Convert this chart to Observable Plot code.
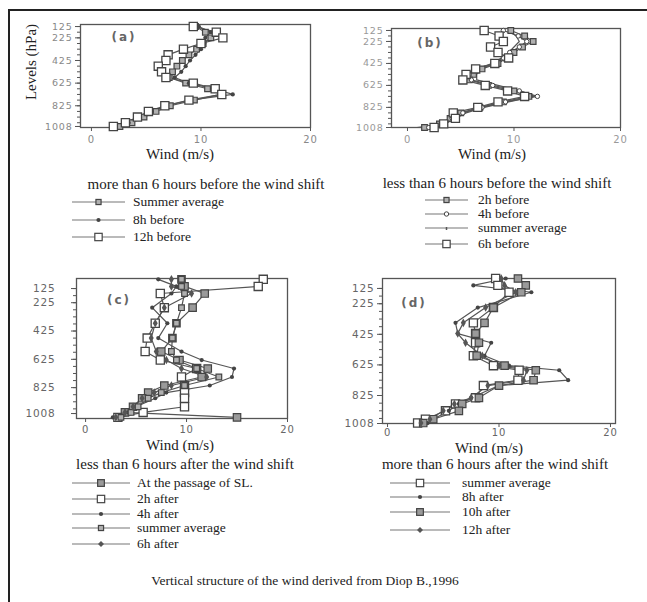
<!DOCTYPE html>
<html><head><meta charset="utf-8">
<script src="https://cdn.jsdelivr.net/npm/d3@7"></script>
<script src="https://cdn.jsdelivr.net/npm/@observablehq/plot@0.6"></script>
<style>
body{margin:0;background:#fff;}
#fig{position:relative;width:647px;height:602px;overflow:hidden;font-family:"Liberation Serif","Times New Roman",serif;color:#222;background:#fff;}
#border{position:absolute;left:8px;top:9px;width:660px;height:620px;border-left:2px solid #222;border-top:2px solid #222;}
.t{position:absolute;white-space:nowrap;transform:translate(-50%,-50%);line-height:1;}
.lg{position:absolute;white-space:nowrap;font-size:13.5px;line-height:13px;}
.lg svg{position:absolute;}
.pl{position:absolute;}
.pn{position:absolute;transform:translate(-50%,-50%);font-family:"DejaVu Sans",sans-serif;font-weight:bold;font-size:12px;color:#666;letter-spacing:2px;}
</style></head>
<body><div id="fig"><div id="border"></div></div>
<script>
// ---------- data ----------
const levelsAB = [125,175,225,275,325,375,425,475,525,575,625,675,725,775,825,875,925,975,1008];
const aSummer = [9.5,10.4,10.9,10.2,9.6,8.9,8.3,7.8,7.4,7.1,8.6,10.6,11.8,9.4,7.2,5.9,4.8,3.7,2.6];
const a8h     = [9.8,10.9,10.4,10.3,10.0,9.5,9.0,8.6,8.2,7.6,8.9,11.2,12.9,9.0,6.9,5.5,4.4,3.4,2.1];
const a12h    = [9.3,11.4,12.0,10.0,8.4,7.0,6.8,6.1,6.4,6.8,9.3,11.3,11.9,8.9,6.7,5.2,4.2,3.1,2.0];

const b2h     = [9.7,11.0,11.8,10.8,10.0,9.3,8.5,7.0,6.2,5.8,7.6,10.0,11.4,9.0,6.8,5.0,4.0,3.0,1.6];
const b4h     = [9.0,10.4,11.2,10.5,9.6,9.0,8.0,6.5,5.8,6.0,8.0,10.5,12.2,9.2,7.0,5.2,4.2,3.2,2.0];
const bSummer = [9.5,10.2,10.5,10.0,9.5,8.8,8.0,7.0,6.5,6.5,8.5,10.6,11.9,9.5,7.2,5.5,4.5,3.5,0.9];
const b6h     = [7.2,8.6,9.0,7.8,8.5,9.5,8.2,6.4,5.5,5.2,7.3,9.4,11.0,8.5,6.6,4.3,4.5,3.4,2.5];

const levelsC = [60,110,160,260,370,475,570,630,690,750,810,860,900,960,1000,1035];
const cSL     = [9.5,9.8,11.8,10.6,9.0,8.6,7.5,9.3,12.1,11.5,7.8,6.2,5.6,4.7,3.9,15.0];
const c2h     = [17.6,17.1,7.4,7.8,6.9,6.1,5.9,7.4,11.0,9.5,9.8,9.8,9.8,9.8,5.7,3.2];
const c4h     = [7.2,9.0,8.5,6.6,8.1,7.2,9.5,11.5,14.7,14.5,12.3,8.0,6.9,5.0,4.2,2.7];
const cSummer = [9.5,9.5,9.8,9.5,9.0,8.6,8.5,9.0,11.0,13.2,9.8,7.5,6.2,5.2,4.5,3.5];
const c6h     = [8.5,8.5,10.5,7.8,6.9,6.5,7.0,8.0,9.5,12.0,8.5,6.8,5.6,4.7,3.9,3.0];

const levelsD = [60,105,150,250,350,420,480,565,630,660,725,760,840,880,925,980,1005];
const dSummer = [9.7,9.9,10.9,9.5,7.7,7.9,7.9,7.7,9.5,11.8,11.7,8.6,7.9,6.1,5.2,3.4,2.7];
const d8h     = [10.6,7.7,12.9,8.1,6.1,6.3,9.3,8.7,10.9,15.4,16.2,10.0,7.5,6.4,5.5,4.1,3.6];
const d10h    = [11.7,12.4,12.0,9.5,8.7,7.9,8.2,8.0,10.5,13.3,13.1,10.0,8.2,6.7,6.4,4.1,3.2];
const d12h    = [10.2,10.5,11.5,8.8,6.8,6.3,7.0,8.5,10.0,12.5,12.2,9.0,7.5,6.0,5.0,3.8,3.0];

const xTicks = [0,10,20];
const yTicks = [125,225,425,625,825,1008];
const minorY = [125,175,225,275,325,375,425,475,525,575,625,675,725,775,825,875,925,975,1008];

const namesA = ["Summer average","8h before","12h before"];
const namesB = ["2h before","4h before","summer average","6h before"];
const namesC = ["At the passage of SL.","2h after","4h after","summer average","6h after"];
const namesD = ["summer average","8h after","10h after","12h after"];

const titleA = "more than 6 hours before the wind shift";
const titleB = "less than 6 hours before the wind shift";
const titleC = "less than 6 hours after the wind shift";
const titleD = "more than 6 hours after the wind shift";
const xLabel = "Wind (m/s)";
const yLabel = "Levels (hPa)";
const caption = "Vertical structure of the wind derived from Diop B.,1996";

// ---------- styles ----------
const mk = {
  graySq:  {symbol:"square", r:4.2, fill:"#9a9a9a", stroke:"#444", strokeWidth:1.2},
  smallSq: {symbol:"square", r:3.2, fill:"#b0b0b0", stroke:"#444", strokeWidth:1.2},
  openSq:  {symbol:"square", r:4.6, fill:"#fff", stroke:"#444", strokeWidth:1.3},
  dot:     {symbol:"circle", r:2.1, fill:"#444", stroke:"none"},
  diamond: {symbol:"diamond", r:2.6, fill:"#555", stroke:"none"},
  ring:    {symbol:"circle", r:2.2, fill:"#fff", stroke:"#444", strokeWidth:1},
  none:    null
};
const panelStyles = {
  a: ["smallSq","dot","openSq"],
  b: ["smallSq","ring","none","openSq"],
  c: ["graySq","openSq","dot","smallSq","diamond"],
  d: ["openSq","dot","graySq","diamond"]
};

function tidy(levels, series, names, styles) {
  const out = [];
  series.forEach((vals, i) => vals.forEach((w, j) => out.push({p: levels[j], w, s: names[i], m: styles[i]})));
  return out;
}

const fig = document.getElementById("fig");
const fmt = d => String(d);

function panel(cfg) {
  const data = tidy(cfg.levels, cfg.series, cfg.names, cfg.styles);
  const marks = [
    Plot.frame({stroke:"#555", strokeWidth:1.3}),
    Plot.axisY({ticks: minorY.filter(v => v >= cfg.yd[0] && v <= cfg.yd[1]), tickSize:3, tickFormat:() => "", stroke:"#555"}),
    Plot.axisY({ticks: yTicks, tickSize: cfg.tickY, tickPadding: cfg.padY, tickFormat: fmt, stroke:"#555", fill: cfg.labCol, fontSize: cfg.fsY}),
    Plot.axisX({ticks: xTicks, tickSize: 4, tickPadding: cfg.padX, tickFormat: fmt, stroke:"#555", fill: cfg.labCol, fontSize: 10}),
    Plot.line(data, {x:"w", y:"p", z:"s", stroke:"#555", strokeWidth:1.2})
  ];
  for (const key of new Set(cfg.styles)) {
    const spec = mk[key];
    if (!spec) continue;
    marks.push(Plot.dot(data.filter(d => d.m === key), {x:"w", y:"p", ...spec}));
  }
  const svg = Plot.plot({
    width: cfg.w, height: cfg.h,
    marginLeft: cfg.ml, marginRight: cfg.mr, marginTop: cfg.mt, marginBottom: cfg.mb,
    x: {domain: cfg.xd, label: null},
    y: {domain: cfg.yd, reverse: true, label: null},
    style: {fontFamily: "'DejaVu Sans', sans-serif", fontSize: "10px", color: "#555", background: "transparent", letterSpacing: "0.8px"},
    marks
  });
  svg.classList.add("pl");
  svg.style.left = cfg.left + "px";
  svg.style.top = cfg.top + "px";
  fig.appendChild(svg);
}

panel({left:20, top:10, w:300, h:150, ml:60, mr:10, mt:14, mb:33, xd:[-1,20], yd:[107,1017],
  tickY:5, padY:3, padX:4, labCol:"#888", fsY:9.5,
  levels: levelsAB, series:[aSummer,a8h,a12h], names:namesA, styles:panelStyles.a});
panel({left:330, top:10, w:310, h:150, ml:61, mr:20, mt:18, mb:33, xd:[-1.5,20], yd:[107,1008],
  tickY:5, padY:3, padX:4, labCol:"#999", fsY:9.5,
  levels: levelsAB, series:[b2h,b4h,bSummer,b6h], names:namesB, styles:panelStyles.b});
panel({left:20, top:265, w:290, h:180, ml:56, mr:23, mt:13, mb:27, xd:[-0.9,20], yd:[54,1043],
  tickY:5, padY:16, padX:3, labCol:"#666", fsY:10.5,
  levels: levelsC, series:[cSL,c2h,c4h,cSummer,c6h], names:namesC, styles:panelStyles.c});
panel({left:330, top:265, w:310, h:180, ml:52, mr:25, mt:13, mb:22, xd:[-0.45,20.45], yd:[60,1008],
  tickY:5, padY:3, padX:1, labCol:"#666", fsY:10.5,
  levels: levelsD, series:[dSummer,d8h,d10h,d12h], names:namesD, styles:panelStyles.d});

// ---------- texts ----------
function text(str, cx, cy, size, extra) {
  const d = document.createElement("div");
  d.className = "t";
  d.textContent = str;
  d.style.left = cx + "px"; d.style.top = cy + "px"; d.style.fontSize = size + "px";
  if (extra) Object.assign(d.style, extra);
  fig.appendChild(d);
  return d;
}
function plabel(str, cx, cy) {
  const d = document.createElement("div");
  d.className = "pn"; d.textContent = str;
  d.style.left = cx + "px"; d.style.top = cy + "px";
  fig.appendChild(d);
}
text(yLabel, 31, 62, 15, {transform:"translate(-50%,-50%) rotate(-90deg)"});
plabel("(a)", 124, 37); plabel("(b)", 430, 43); plabel("(c)", 119, 300); plabel("(d)", 414, 303);
text(xLabel, 180, 154, 15); text(xLabel, 492, 154, 15);
text(xLabel, 180, 445, 15); text(xLabel, 489, 448, 15);
text(titleA, 206, 184, 15); text(titleB, 497, 183, 15);
text(titleC, 185, 464, 15); text(titleD, 495, 464, 15);
text(caption, 305, 581, 13.5);

function symSvg(key, w) {
  const s = mk[key];
  let m = "";
  const c = w / 2;
  if (s) {
    if (s.symbol === "square") {
      const a = s.r * 1.6;
      m = `<rect x="${c - a/2}" y="${7 - a/2}" width="${a}" height="${a}" fill="${s.fill}" stroke="${s.stroke}" stroke-width="1.2"/>`;
    } else if (s.symbol === "diamond") {
      m = `<path d="M${c - 3},7L${c},4L${c + 3},7L${c},10Z" fill="${s.fill}"/>`;
    } else {
      m = `<circle cx="${c}" cy="7" r="${s.r}" fill="${s.fill}" stroke="${s.stroke}" stroke-width="1"/>`;
    }
  } else {
    m = `<line x1="${c}" y1="6" x2="${c}" y2="9" stroke="#555" stroke-width="1.5"/>`;
  }
  return `<svg width="${w}" height="14" style="left:0;top:0"><line x1="0" y1="7" x2="${w}" y2="7" stroke="#777" stroke-width="1.2"/>${m}</svg>`;
}
function legend(names, styles, x0, x1, tx, rows) {
  names.forEach((n, i) => {
    const g = document.createElement("div");
    g.className = "lg";
    g.style.left = x0 + "px"; g.style.top = (rows[i] - 7) + "px";
    g.style.width = (tx - x0 + 200) + "px"; g.style.height = "14px";
    g.innerHTML = symSvg(styles[i], x1 - x0) + `<span style="position:absolute;left:${tx - x0}px;top:0">${n}</span>`;
    fig.appendChild(g);
  });
}
legend(namesA, panelStyles.a, 72, 125, 133, [202, 220, 237]);
legend(namesB, panelStyles.b, 425, 468, 478, [200, 214, 228, 244]);
legend(namesC, panelStyles.c, 72, 130, 137, [483, 499, 514, 528, 544]);
legend(namesD, panelStyles.d, 390, 450, 462, [483, 497, 512, 530]);
</script>
</body></html>
